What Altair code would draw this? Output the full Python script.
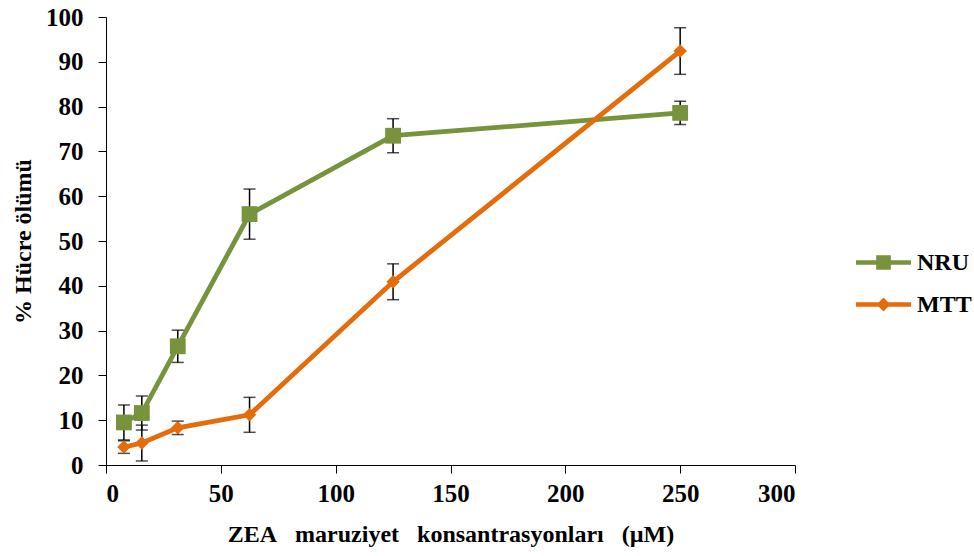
import altair as alt
import pandas as pd

conc = [7.8, 15.6, 31.25, 62.5, 125, 250]
nru = [9.5, 11.6, 26.5, 56.0, 73.5, 78.6]
nru_err = [3.9, 3.8, 3.6, 5.6, 3.8, 2.6]
mtt = [4.0, 4.9, 8.3, 11.2, 40.9, 92.4]
mtt_err = [1.4, 4.0, 1.5, 3.9, 4.0, 5.2]
series = ["NRU", "MTT"]
colors = ["#77933C", "#E46C0A"]
x_ticks = [0, 50, 100, 150, 200, 250, 300]
y_ticks = [0, 10, 20, 30, 40, 50, 60, 70, 80, 90, 100]

rows = []
for name, vals, errs in [("NRU", nru, nru_err), ("MTT", mtt, mtt_err)]:
    for c, v, e in zip(conc, vals, errs):
        rows.append({"conc": c, "val": v, "lo": v - e, "hi": v + e, "series": name})
df = pd.DataFrame(rows)

FONT = "Liberation Serif"
SP = "\u00a0\u00a0\u00a0"
X_TITLE = SP.join(["ZEA", "maruziyet", "konsantrasyonları", "(µM)"])
Y_TITLE = "% Hücre ölümü"

x_enc = alt.X("conc:Q", scale=alt.Scale(domain=[0, 300], nice=False), title=X_TITLE,
              axis=alt.Axis(values=x_ticks, titlePadding=16, labelPadding=8))
y_enc = alt.Y("val:Q", scale=alt.Scale(domain=[0, 100], nice=False), title=Y_TITLE,
              axis=alt.Axis(values=y_ticks, titlePadding=10, labelPadding=15))

base = alt.Chart(df)


def series_layers(name, color, shape, size):
    sub = base.transform_filter(alt.datum.series == name)
    line = sub.mark_line(strokeWidth=4.8, color=color).encode(x=x_enc, y=y_enc)
    pts = sub.mark_point(shape=shape, filled=True, size=size, opacity=1, color=color).encode(
        x=alt.X("conc:Q", title=X_TITLE), y=alt.Y("val:Q", title=Y_TITLE))
    return line, pts


line_nru, pts_nru = series_layers("NRU", colors[0], "square", 250)
line_mtt, pts_mtt = series_layers("MTT", colors[1], "diamond", 180)

errbars = base.mark_errorbar(
    ticks={"size": 12, "thickness": 1.5, "color": "black"},
    rule={"strokeWidth": 1.5, "color": "black"},
).encode(
    x=alt.X("conc:Q", title=X_TITLE),
    y=alt.Y("lo:Q", title=Y_TITLE),
    y2=alt.Y2("hi:Q"),
)

path_nru = "M-1.5,-0.12H1.5V0.12H-1.5Z M-0.4,-0.4H0.4V0.4H-0.4Z"
path_mtt = "M-1.5,-0.12H1.5V0.12H-1.5Z M0,-0.38L0.38,0L0,0.38L-0.38,0Z"

# legend-only layer: no rows pass the filter, the legend comes from the fixed scale domains
legend_layer = base.transform_filter("false").mark_point(
    filled=True, size=1344, opacity=1
).encode(
    x=alt.X("conc:Q", title=X_TITLE), y=alt.Y("val:Q", title=Y_TITLE),
    color=alt.Color("series:N", scale=alt.Scale(domain=series, range=colors),
                    legend=alt.Legend(title=None, orient="none", legendX=758, legendY=226,
                                      rowPadding=10, labelOffset=14, padding=0,
                                      symbolSize=1344, symbolOpacity=1,
                                      labelFont=FONT, labelFontSize=24, labelFontWeight="bold",
                                      labelColor="black")),
    shape=alt.Shape("series:N", scale=alt.Scale(domain=series, range=[path_nru, path_mtt])),
)

chart = alt.layer(line_nru, line_mtt, errbars, pts_nru, pts_mtt, legend_layer).properties(
    width=689, height=448,
    autosize=alt.AutoSizeParams(type="none"),
    padding={"left": 106, "top": 17, "right": 179, "bottom": 91},
).configure_view(stroke=None).configure_axis(
    grid=False, domainColor="black", domainWidth=1, tickColor="black", tickWidth=1,
    tickSize=8, labelFont=FONT, labelFontSize=25, labelFontWeight="bold", labelColor="black",
    titleFont=FONT, titleFontSize=24, titleFontWeight="bold", titleColor="black",
)

chart.save("out.html", embed_options={"renderer": "svg", "actions": False})
